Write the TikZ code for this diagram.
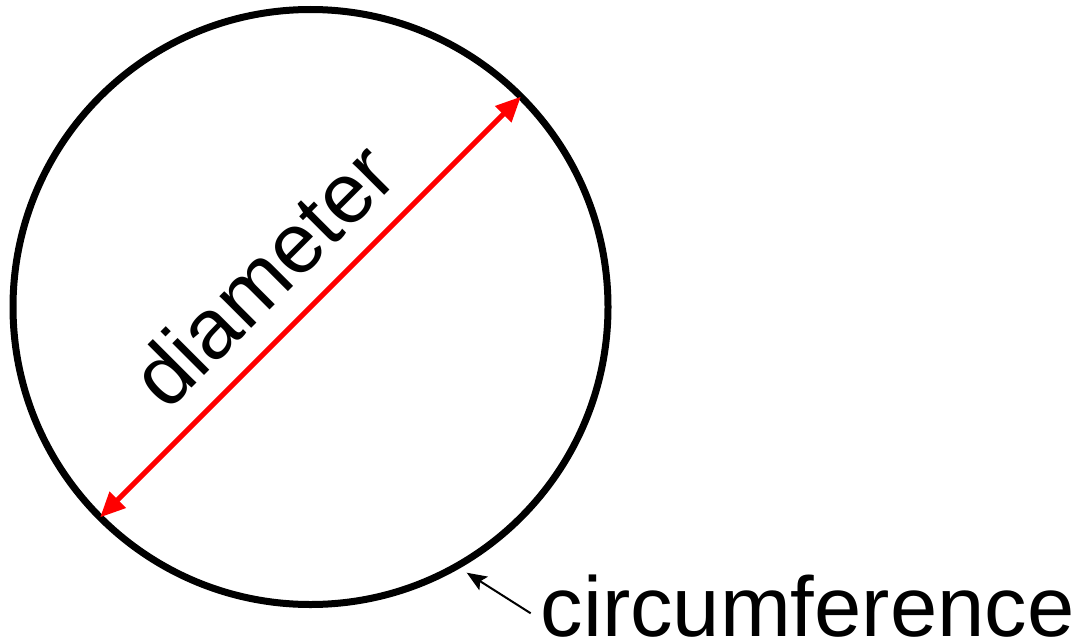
\documentclass[tikz,border=0pt]{standalone}
\usepackage{fontspec}
\setmainfont{Liberation Sans}
\usetikzlibrary{arrows.meta,calc}
\begin{document}
\begin{tikzpicture}[x=1pt,y=-1pt,
  rim/.style={circle,draw=black,line width=7pt,minimum size=595pt,inner sep=0pt,outer sep=0pt},
  diam/.style={draw=red,line width=5pt,{Triangle[length=25pt,width=22pt]}-{Triangle[length=25pt,width=22pt]}},
  pointer/.style={draw=black,line width=2pt,-{Stealth[length=20pt,width=16pt,inset=4pt]}},
  lbl/.style={inner sep=0pt,font=\fontsize{85pt}{90pt}\selectfont}]
\useasboundingbox (0,0) rectangle (1078,642);
\node[rim] (c) at (310.5,307) {};
\draw[diam] (c.225) -- (c.45);
\node[lbl,anchor=base,rotate=45] (d) at (284,296) {diameter};
\node[lbl,anchor=base west] (t) at (540.5,636) {circumference};
\coordinate (tail) at (530.7,613.3);
\coordinate (tip) at (466.7,572.7);
\draw[pointer] (tail) -- (tip);
\end{tikzpicture}
\end{document}
